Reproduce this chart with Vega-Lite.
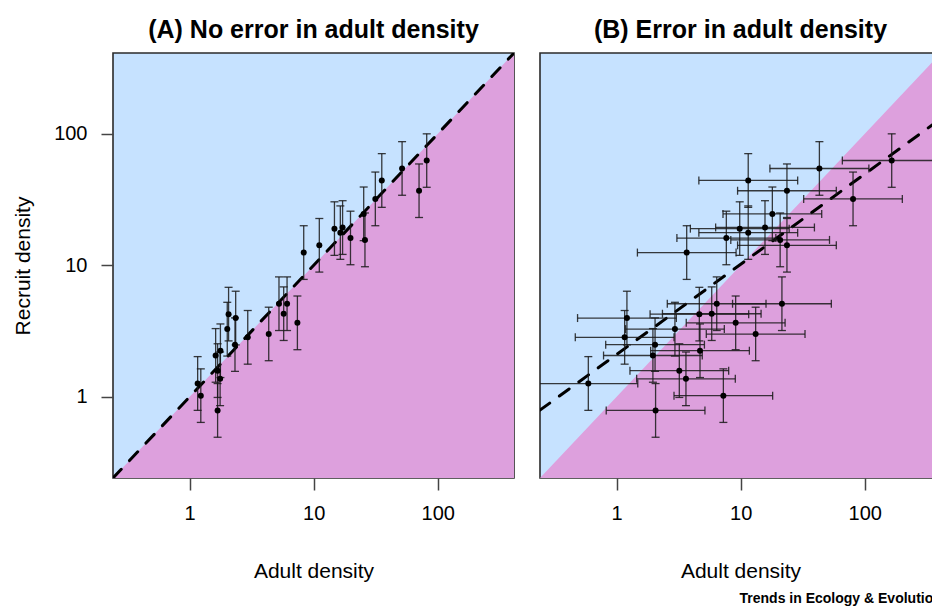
{
  "$schema": "https://vega.github.io/schema/vega-lite/v6.json",
  "background": "white",
  "padding": {"left": 11, "top": 17, "right": 0, "bottom": 0},
  "spacing": 26,
  "bounds": "flush",
  "config": {
    "font": "Liberation Sans",
    "view": {"fill": "#c6e2ff", "stroke": "#2b2b2b", "strokeWidth": 1.6},
    "axisX": {"grid": false, "domain": false, "tickSize": 12, "tickWidth": 1.5, "tickColor": "#444", "labelFontSize": 20, "labelColor": "black", "labelPadding": 13, "titleFontSize": 21, "titleFontWeight": "normal", "titleColor": "black", "titleBaseline": "alphabetic", "titleY": 99},
    "axisY": {"grid": false, "domain": false, "tickSize": 12, "tickWidth": 1.5, "tickColor": "#444", "labelFontSize": 20, "labelColor": "black", "labelPadding": 14, "titleFontSize": 21, "titleFontWeight": "normal", "titleColor": "black", "titleBaseline": "alphabetic", "titleX": -84}
  },
  "title": {"text": "Trends in Ecology & Evolution", "orient": "bottom", "anchor": "end", "frame": "bounds", "fontSize": 14, "font": "Liberation Sans", "fontWeight": "bold", "color": "black", "baseline": "alphabetic", "offset": 21},
  "datasets": {
    "pts": [
      {"a": 1.16, "ab": 0.591, "r": 1.26, "rlo": 0.788, "rhi": 2.02, "ablo": 0.236, "abhi": 1.48},
      {"a": 1.23, "ab": 7.25, "r": 1.02, "rlo": 0.638, "rhi": 1.63, "ablo": 2.90, "abhi": 18.1},
      {"a": 1.68, "ab": 2.06, "r": 0.787, "rlo": 0.492, "rhi": 1.26, "ablo": 0.824, "abhi": 5.15},
      {"a": 1.68, "ab": 3.20, "r": 1.58, "rlo": 0.988, "rhi": 2.53, "ablo": 1.28, "abhi": 8.00},
      {"a": 1.76, "ab": 3.62, "r": 1.37, "rlo": 0.856, "rhi": 2.19, "ablo": 1.45, "abhi": 9.05},
      {"a": 1.62, "ab": 1.96, "r": 2.06, "rlo": 1.29, "rhi": 3.30, "ablo": 0.784, "abhi": 4.90},
      {"a": 1.77, "ab": 4.70, "r": 2.24, "rlo": 1.40, "rhi": 3.58, "ablo": 1.88, "abhi": 11.75},
      {"a": 2.01, "ab": 2.95, "r": 3.27, "rlo": 2.04, "rhi": 5.23, "ablo": 1.18, "abhi": 7.38},
      {"a": 2.06, "ab": 4.64, "r": 4.25, "rlo": 2.66, "rhi": 6.80, "ablo": 1.86, "abhi": 11.6},
      {"a": 2.32, "ab": 2.04, "r": 2.49, "rlo": 1.56, "rhi": 3.98, "ablo": 0.816, "abhi": 5.10},
      {"a": 2.35, "ab": 1.21, "r": 3.97, "rlo": 2.48, "rhi": 6.35, "ablo": 0.484, "abhi": 3.03},
      {"a": 2.94, "ab": 1.16, "r": 2.83, "rlo": 1.77, "rhi": 4.53, "ablo": 0.464, "abhi": 2.90},
      {"a": 4.34, "ab": 13.2, "r": 3.00, "rlo": 1.88, "rhi": 4.80, "ablo": 5.28, "abhi": 33.0},
      {"a": 5.25, "ab": 6.41, "r": 5.10, "rlo": 3.19, "rhi": 8.16, "ablo": 2.56, "abhi": 16.0},
      {"a": 5.73, "ab": 5.84, "r": 4.28, "rlo": 2.68, "rhi": 6.85, "ablo": 2.34, "abhi": 14.6},
      {"a": 6.10, "ab": 21.5, "r": 5.10, "rlo": 3.19, "rhi": 8.16, "ablo": 8.60, "abhi": 53.8},
      {"a": 7.39, "ab": 9.11, "r": 3.65, "rlo": 2.28, "rhi": 5.84, "ablo": 3.64, "abhi": 22.8},
      {"a": 8.31, "ab": 3.67, "r": 12.5, "rlo": 7.81, "rhi": 20.0, "ablo": 1.47, "abhi": 9.18},
      {"a": 11.1, "ab": 23.6, "r": 14.2, "rlo": 8.88, "rhi": 22.7, "ablo": 9.44, "abhi": 59.0},
      {"a": 14.7, "ab": 9.82, "r": 19.0, "rlo": 11.9, "rhi": 30.4, "ablo": 3.93, "abhi": 24.6},
      {"a": 16.4, "ab": 11.5, "r": 17.7, "rlo": 11.1, "rhi": 28.3, "ablo": 4.60, "abhi": 28.8},
      {"a": 17.1, "ab": 15.7, "r": 19.4, "rlo": 12.1, "rhi": 31.0, "ablo": 6.28, "abhi": 39.3},
      {"a": 19.8, "ab": 7.66, "r": 16.1, "rlo": 10.1, "rhi": 25.8, "ablo": 3.06, "abhi": 19.2},
      {"a": 25.3, "ab": 18.0, "r": 24.6, "rlo": 15.4, "rhi": 39.4, "ablo": 7.20, "abhi": 45.0},
      {"a": 25.9, "ab": 20.8, "r": 15.6, "rlo": 9.75, "rhi": 25.0, "ablo": 8.32, "abhi": 52.0},
      {"a": 31.4, "ab": 80.5, "r": 32.0, "rlo": 20.0, "rhi": 51.2, "ablo": 32.2, "abhi": 201},
      {"a": 35.4, "ab": 11.5, "r": 44.2, "rlo": 27.6, "rhi": 70.7, "ablo": 4.60, "abhi": 28.8},
      {"a": 51.6, "ab": 43.1, "r": 54.5, "rlo": 34.1, "rhi": 87.2, "ablo": 17.2, "abhi": 108},
      {"a": 70.7, "ab": 23.6, "r": 36.9, "rlo": 23.1, "rhi": 59.0, "ablo": 9.44, "abhi": 59.0},
      {"a": 81.5, "ab": 165, "r": 62.7, "rlo": 39.2, "rhi": 100, "ablo": 66.0, "abhi": 413}
    ],
    "diag": [
      {"x": 0.241, "y": 0.241, "base": 0.241},
      {"x": 412, "y": 412, "base": 0.241}
    ],
    "fitB": [
      {"x": 0.241, "y": 0.791},
      {"x": 412, "y": 130.6}
    ]
  },
  "hconcat": [
    {
      "width": 401,
      "height": 425,
      "title": {"text": "(A) No error in adult density", "anchor": "middle", "frame": "group", "fontSize": 25, "fontWeight": "bold", "color": "black", "baseline": "alphabetic", "offset": -10},
      "layer": [
        {
          "data": {"name": "diag"},
          "mark": {"type": "area", "color": "#dda0dd", "clip": true},
          "encoding": {
            "x": {"field": "x", "type": "quantitative", "title": "Adult density", "scale": {"type": "log", "domain": [0.241, 412], "nice": false}, "axis": {"values": [1, 10, 100], "format": "d"}},
            "y": {"field": "y", "type": "quantitative", "title": "Recruit density", "scale": {"type": "log", "domain": [0.241, 412], "nice": false}, "axis": {"values": [1, 10, 100], "format": "d"}},
            "y2": {"field": "base"}
          }
        },
        {
          "data": {"name": "diag"},
          "mark": {"type": "line", "color": "black", "strokeWidth": 3, "strokeDash": [12, 12], "strokeCap": "round", "clip": true},
          "encoding": {
            "x": {"field": "x", "type": "quantitative", "title": "Adult density"},
            "y": {"field": "y", "type": "quantitative", "title": "Recruit density"}
          }
        },
        {
          "data": {"name": "pts"},
          "mark": {"type": "rule", "color": "#1a1a1a", "strokeWidth": 1.3, "opacity": 0.85, "clip": true},
          "encoding": {
            "x": {"field": "a", "type": "quantitative", "title": "Adult density"},
            "y": {"field": "rlo", "type": "quantitative", "title": "Recruit density"},
            "y2": {"field": "rhi"}
          }
        },
        {
          "data": {"name": "pts"},
          "mark": {"type": "tick", "orient": "horizontal", "color": "#1a1a1a", "size": 8, "thickness": 1.3, "opacity": 0.85, "clip": true},
          "encoding": {
            "x": {"field": "a", "type": "quantitative", "title": "Adult density"},
            "y": {"field": "rlo", "type": "quantitative", "title": "Recruit density"}
          }
        },
        {
          "data": {"name": "pts"},
          "mark": {"type": "tick", "orient": "horizontal", "color": "#1a1a1a", "size": 8, "thickness": 1.3, "opacity": 0.85, "clip": true},
          "encoding": {
            "x": {"field": "a", "type": "quantitative", "title": "Adult density"},
            "y": {"field": "rhi", "type": "quantitative", "title": "Recruit density"}
          }
        },
        {
          "data": {"name": "pts"},
          "mark": {"type": "circle", "color": "black", "size": 36, "opacity": 1, "clip": true},
          "encoding": {
            "x": {"field": "a", "type": "quantitative", "title": "Adult density"},
            "y": {"field": "r", "type": "quantitative", "title": "Recruit density"}
          }
        }
      ]
    },
    {
      "width": 401,
      "height": 425,
      "title": {"text": "(B) Error in adult density", "anchor": "middle", "frame": "group", "fontSize": 25, "fontWeight": "bold", "color": "black", "baseline": "alphabetic", "offset": -10},
      "layer": [
        {
          "data": {"name": "diag"},
          "mark": {"type": "area", "color": "#dda0dd", "clip": true},
          "encoding": {
            "x": {"field": "x", "type": "quantitative", "title": "Adult density", "scale": {"type": "log", "domain": [0.241, 412], "nice": false}, "axis": {"values": [1, 10, 100], "format": "d"}},
            "y": {"field": "y", "type": "quantitative", "axis": null, "scale": {"type": "log", "domain": [0.241, 412], "nice": false}},
            "y2": {"field": "base"}
          }
        },
        {
          "data": {"name": "fitB"},
          "mark": {"type": "line", "color": "black", "strokeWidth": 3, "strokeDash": [12, 12], "strokeCap": "round", "clip": true},
          "encoding": {
            "x": {"field": "x", "type": "quantitative", "title": "Adult density"},
            "y": {"field": "y", "type": "quantitative", "axis": null}
          }
        },
        {
          "data": {"name": "pts"},
          "mark": {"type": "rule", "color": "#1a1a1a", "strokeWidth": 1.3, "opacity": 0.85, "clip": true},
          "encoding": {
            "x": {"field": "ab", "type": "quantitative", "title": "Adult density"},
            "y": {"field": "rlo", "type": "quantitative", "axis": null},
            "y2": {"field": "rhi"}
          }
        },
        {
          "data": {"name": "pts"},
          "mark": {"type": "tick", "orient": "horizontal", "color": "#1a1a1a", "size": 8, "thickness": 1.3, "opacity": 0.85, "clip": true},
          "encoding": {
            "x": {"field": "ab", "type": "quantitative", "title": "Adult density"},
            "y": {"field": "rlo", "type": "quantitative", "axis": null}
          }
        },
        {
          "data": {"name": "pts"},
          "mark": {"type": "tick", "orient": "horizontal", "color": "#1a1a1a", "size": 8, "thickness": 1.3, "opacity": 0.85, "clip": true},
          "encoding": {
            "x": {"field": "ab", "type": "quantitative", "title": "Adult density"},
            "y": {"field": "rhi", "type": "quantitative", "axis": null}
          }
        },
        {
          "data": {"name": "pts"},
          "mark": {"type": "rule", "color": "#1a1a1a", "strokeWidth": 1.3, "opacity": 0.85, "clip": true},
          "encoding": {
            "x": {"field": "ablo", "type": "quantitative", "title": "Adult density"},
            "x2": {"field": "abhi"},
            "y": {"field": "r", "type": "quantitative", "axis": null}
          }
        },
        {
          "data": {"name": "pts"},
          "mark": {"type": "tick", "orient": "vertical", "color": "#1a1a1a", "size": 8, "thickness": 1.3, "opacity": 0.85, "clip": true},
          "encoding": {
            "x": {"field": "ablo", "type": "quantitative", "title": "Adult density"},
            "y": {"field": "r", "type": "quantitative", "axis": null}
          }
        },
        {
          "data": {"name": "pts"},
          "mark": {"type": "tick", "orient": "vertical", "color": "#1a1a1a", "size": 8, "thickness": 1.3, "opacity": 0.85, "clip": true},
          "encoding": {
            "x": {"field": "abhi", "type": "quantitative", "title": "Adult density"},
            "y": {"field": "r", "type": "quantitative", "axis": null}
          }
        },
        {
          "data": {"name": "pts"},
          "mark": {"type": "circle", "color": "black", "size": 36, "opacity": 1, "clip": true},
          "encoding": {
            "x": {"field": "ab", "type": "quantitative", "title": "Adult density"},
            "y": {"field": "r", "type": "quantitative", "axis": null}
          }
        }
      ]
    }
  ]
}
